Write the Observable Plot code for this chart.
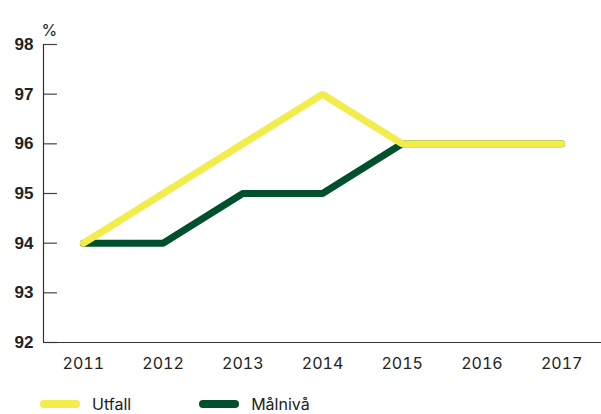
<!DOCTYPE html>
<html>
<head>
<meta charset="utf-8">
<script src="https://cdn.jsdelivr.net/npm/d3@7"></script>
<script src="https://cdn.jsdelivr.net/npm/@observablehq/plot@0.6"></script>
<style>
  html, body { margin: 0; padding: 0; background: #fff; overflow: hidden; }
  #chart { width: 601px; height: 414px; position: relative; font-family: Inter, "Liberation Sans", sans-serif; }
  .legend { position: absolute; left: 40px; top: 395px; display: flex; align-items: center; font-size: 16px; line-height: 18px; color: #222; }
  .item { display: flex; align-items: center; }
  .sw { width: 40px; height: 8px; border-radius: 4px; margin-right: 12px; }
</style>
</head>
<body>
<div id="chart"></div>
<script>
const years = [2011, 2012, 2013, 2014, 2015, 2016, 2017];
const utfall = [94, 95, 96, 97, 96, 96, 96];
const malniva = [94, 94, 95, 95, 96, 96, 96];
const yTicks = [92, 93, 94, 95, 96, 97, 98];
const seriesNames = ["Utfall", "Målnivå"];
const colors = ["#F2EC4C", "#004F2D"];

const utData = years.map((y, i) => ({year: y, value: utfall[i]}));
const mlData = years.map((y, i) => ({year: y, value: malniva[i]}));

const xDomain = [2010.5, 2017.5];
const tickLen = 0.175; // inner tick length in x units (~14px)

const plot = Plot.plot({
  width: 601,
  height: 392,
  marginLeft: 43,
  marginRight: 0,
  marginTop: 44,
  marginBottom: 50,
  style: {fontFamily: "Inter, 'Liberation Sans', sans-serif", color: "#222", background: "#fff"},
  x: {domain: xDomain},
  y: {domain: [92, 98]},
  marks: [
    Plot.ruleY(yTicks, {x1: xDomain[0], x2: xDomain[0] + tickLen, stroke: "#444", strokeWidth: 1.2}),
    Plot.ruleX([xDomain[0]], {stroke: "#333", strokeWidth: 1.2}),
    Plot.ruleY([92], {stroke: "#333", strokeWidth: 1.2}),
    Plot.axisY(yTicks, {tickSize: 0, tickPadding: 10, fontSize: 17, fontWeight: "bold", label: null, tickFormat: d => String(d), fontFamily: "'Liberation Sans', Arial, sans-serif", fill: "#222"}),
    Plot.axisX(years, {tickSize: 0, tickPadding: 15, fontSize: 16, fontWeight: 400, tickFormat: d => String(d), label: null, fill: "#222"}),
    Plot.text(["%"], {frameAnchor: "top-left", dy: -20, dx: -2, fontSize: 16, fill: "#222"}),
    Plot.line(mlData, {x: "year", y: "value", stroke: colors[1], strokeWidth: 7, strokeLinecap: "round", strokeLinejoin: "miter"}),
    Plot.line(utData, {x: "year", y: "value", stroke: colors[0], strokeWidth: 7, strokeLinecap: "round", strokeLinejoin: "miter"})
  ]
});

const chart = document.getElementById("chart");
chart.appendChild(plot);

const legend = document.createElement("div");
legend.className = "legend";
seriesNames.forEach((name, i) => {
  const item = document.createElement("div");
  item.className = "item";
  item.style.marginRight = i === 0 ? "68px" : "0";
  const sw = document.createElement("div");
  sw.className = "sw";
  sw.style.background = colors[i];
  const t = document.createElement("span");
  t.textContent = name;
  item.appendChild(sw);
  item.appendChild(t);
  legend.appendChild(item);
});
chart.appendChild(legend);
</script>
</body>
</html>
